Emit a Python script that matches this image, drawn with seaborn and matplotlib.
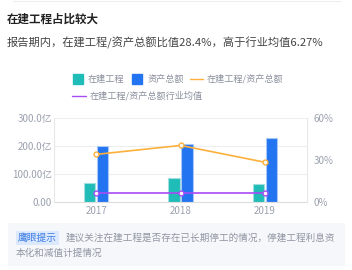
import matplotlib
matplotlib.use('Agg')
import matplotlib.pyplot as plt
from matplotlib.lines import Line2D
from matplotlib.patches import Rectangle
import pandas as pd
import seaborn as sns

# data
years = ['2017', '2018', '2019']
cip_value = [68, 84, 66]          # 在建工程 (亿)
total_assets = [200, 208, 230]    # 资产总额 (亿)
cip_ratio = [34.0, 40.4, 28.4]    # 在建工程/资产总额 (%)
industry_avg = [6.27, 6.27, 6.27]  # 行业均值 (%)

y_ticks = [0, 100, 200, 300]
y_tick_labels = ['0.00', '100.00亿', '200.0亿', '300.0亿']
pct_ticks = [0, 30, 60]
pct_tick_labels = ['0%', '30%', '60%']

bar_names = ['在建工程', '资产总额']
line_names = ['在建工程/资产总额', '在建工程/资产总额行业均值']

teal, blue = '#1fbcb8', '#2374f0'
orange, purple = '#fdb03c', '#a84cf6'
grey_txt = '#9aa0ad'

bars_df = pd.DataFrame({
    'year': years * 2,
    'value': cip_value + total_assets,
    'kind': [bar_names[0]] * 3 + [bar_names[1]] * 3,
})
lines_df = pd.DataFrame({
    'year': years * 2,
    'pct': cip_ratio + industry_avg,
    'kind': [line_names[0]] * 3 + [line_names[1]] * 3,
})

sns.set_theme(style='white')
plt.rcParams['font.family'] = ['Noto Sans CJK SC', 'DejaVu Sans']

fig = plt.figure(figsize=(3.52, 2.7), dpi=100)
fig.add_artist(Line2D([13 / 352, 340 / 352], [1 - 1 / 270] * 2, color='#eeeeee', lw=0.8))

fig.text(7 / 352, 1 - 19 / 270, '在建工程占比较大', fontsize=8.3, weight='bold',
         color='#222222', va='center')
fig.text(7 / 352, 1 - 43 / 270, '报告期内，在建工程/资产总额比值28.4%，高于行业均值6.27%',
         fontsize=8.1, color='#444444', va='center')

ax = fig.add_axes([54 / 352, 68 / 270, 253 / 352, 84 / 270])
sns.barplot(data=bars_df, x='year', y='value', hue='kind', hue_order=bar_names,
            palette=[teal, blue], saturation=1, width=0.31, gap=0.15,
            legend=False, ax=ax)
for cont, ec in zip(ax.containers, ['#9fe0dd', '#a8c8fa']):
    for p in cont:
        p.set_edgecolor(ec)
        p.set_linewidth(0.8)

ax2 = ax.twinx()
sns.pointplot(data=lines_df, x='year', y='pct', hue='kind', hue_order=line_names,
              palette=[orange, purple], markers='o', errorbar=None,
              linewidth=1.2, markersize=3.5, legend=False, ax=ax2)
for ln in ax2.lines:
    ln.set_markerfacecolor('white')
    ln.set_markeredgewidth(1.0)

ax.set_xlim(-0.5, 2.5)
ax.set_ylim(0, 300)
ax.set_yticks(y_ticks)
ax.set_yticklabels(y_tick_labels)
ax2.set_ylim(0, 60)
ax2.set_yticks(pct_ticks)
ax2.set_yticklabels(pct_tick_labels)
for a in (ax, ax2):
    a.set_xlabel('')
    a.set_ylabel('')
    a.tick_params(length=0, labelsize=7, labelcolor=grey_txt)
ax.tick_params(axis='y', pad=1.5)
ax.tick_params(axis='x', pad=3)
ax2.tick_params(axis='y', pad=5)

ax.yaxis.grid(True, color='#eeeeee', lw=0.8)
ax.set_axisbelow(True)
ax2.grid(False)
for s in ['top', 'right']:
    ax.spines[s].set_visible(False)
for s in ['top', 'left', 'bottom']:
    ax2.spines[s].set_visible(False)
ax.spines['left'].set_color('#e8e8e8')
ax.spines['bottom'].set_color('#dddddd')
ax2.spines['right'].set_color('#e8e8e8')
for s in [ax.spines['left'], ax.spines['bottom'], ax2.spines['right']]:
    s.set_linewidth(0.8)

# legend, two rows
row1 = [Line2D([], [], marker='s', ls='none', markersize=7, color=teal),
        Line2D([], [], marker='s', ls='none', markersize=7, color=blue),
        Line2D([], [], color=orange, lw=1)]
fig.legend(handles=row1, labels=bar_names + [line_names[0]], loc='center left',
           bbox_to_anchor=(71.5 / 352, 1 - 79 / 270), ncol=3, frameon=False,
           fontsize=6.6, handlelength=1.4, handletextpad=0.4, columnspacing=0.7,
           borderpad=0, borderaxespad=0, labelcolor='#8a8f9c')
fig.legend(handles=[Line2D([], [], color=purple, lw=1)], labels=[line_names[1]],
           loc='center left', bbox_to_anchor=(72 / 352, 1 - 96 / 270), frameon=False,
           fontsize=6.6, handlelength=1.5, handletextpad=0.4,
           borderpad=0, borderaxespad=0, labelcolor='#8a8f9c')

# tip box
fig.add_artist(Rectangle((8 / 352, 1 - 266 / 270), 337 / 352, 43 / 270,
                         transform=fig.transFigure, facecolor='#f5f7fa', edgecolor='none'))
fig.text(18 / 352, 1 - 238 / 270, '鹰眼提示', fontsize=7, color='#3d7ee6', va='center',
         bbox=dict(boxstyle='square,pad=0.2', fc='#dce8fb', ec='none'))
fig.text(66 / 352, 1 - 238 / 270, '建议关注在建工程是否存在已长期停工的情况，停建工程利息资',
         fontsize=6.9, color='#9096a3', va='center')
fig.text(16 / 352, 1 - 253 / 270, '本化和减值计提情况', fontsize=6.9, color='#9096a3',
         va='center')

fig.savefig('out.png', dpi=100)
